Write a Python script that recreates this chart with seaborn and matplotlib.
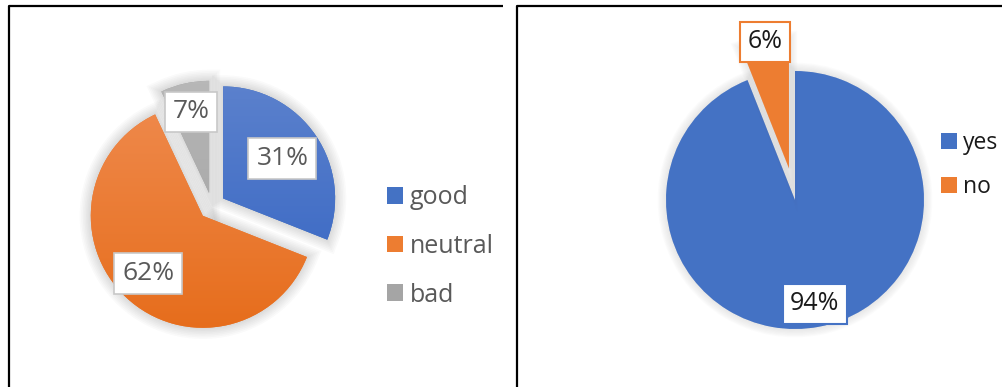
import numpy as np
import matplotlib
matplotlib.use("Agg")
import matplotlib.pyplot as plt
import matplotlib.patheffects as pe
from matplotlib.colors import LinearSegmentedColormap
import seaborn as sns

# Survey answers, left chart
rating_labels = ["good", "neutral", "bad"]
rating_values = [31, 62, 7]

# Survey answers, right chart
answer_labels = ["yes", "no"]
answer_values = [94, 6]

sns.set_theme(style="white")
plt.rcParams["font.family"] = ["Open Sans", "DejaVu Sans"]

W, H = 1003, 387
fig = plt.figure(figsize=(W / 100, H / 100), dpi=100)
ax = fig.add_axes([0, 0, 1, 1])


def reset_axes():
    ax.set_xlim(0, W)
    ax.set_ylim(0, H)
    ax.set_aspect("equal")
    ax.set_axis_off()


reset_axes()

# panel frames (top and left edges are visible, the rest run off the canvas)
for x0, x1 in [(9, 503), (517, W + 5)]:
    ax.plot([x0, x0, x1], [-5, H - 6, H - 6], color="black", lw=1.6,
            solid_capstyle="butt", zorder=1)


def halo(width, alpha=0.035, steps=7):
    effects = []
    for k in range(steps, 0, -1):
        effects.append(pe.Stroke(linewidth=width * k / steps,
                                 foreground="#606060", alpha=alpha))
    effects.append(pe.Normal())
    return effects


# ---------- left chart: exploded pie with gradient fills ----------
left_top = ["#5d82cd", "#f08d52", "#b8b8b8"]
left_bottom = ["#3162c2", "#e66c1a", "#9c9c9c"]
left_base = ["#4472c4", "#ed7d31", "#a5a5a5"]
r1 = 112
c1 = (212, H - 206)
wedges1, texts1, auto1 = ax.pie(
    rating_values, colors=left_base, startangle=90, counterclock=False,
    radius=r1, center=c1, explode=[0.12 * r1] * 3, frame=True,
    autopct="%d%%", pctdistance=0.7,
    wedgeprops=dict(linewidth=0),
    textprops=dict(fontsize=19, color="#595959"))
reset_axes()

for w, ctop, cbot in zip(wedges1, left_top, left_bottom):
    w.set_path_effects(halo(16, alpha=0.03))
    w.set_zorder(3)
    cmap = LinearSegmentedColormap.from_list("g", [cbot, ctop])
    grad = np.linspace(0, 1, 256).reshape(-1, 1)
    im = ax.imshow(grad, cmap=cmap, origin="lower", aspect="auto",
                   extent=[c1[0] - r1 - 20, c1[0] + r1 + 20,
                           c1[1] - r1 - 20, c1[1] + r1 + 20],
                   zorder=4)
    im.set_clip_path(w)
reset_axes()

label_dist1 = [0.64, 0.71, 0.74]
for w, t, d in zip(wedges1, auto1, label_dist1):
    ang = np.deg2rad((w.theta1 + w.theta2) / 2)
    cx, cy = w.center
    t.set_position((cx + d * r1 * np.cos(ang), cy + d * r1 * np.sin(ang)))
    t.set_zorder(6)
    t.set_bbox(dict(boxstyle="square,pad=0.3", facecolor="white",
                    edgecolor="#c8c8c8", linewidth=1.2))

leg1 = ax.legend(wedges1, rating_labels, loc="upper left",
                 bbox_to_anchor=(377, H - 175), bbox_transform=ax.transData,
                 frameon=False, fontsize=18, labelcolor="#595959",
                 handlelength=0.66, handleheight=0.66, handletextpad=0.25,
                 labelspacing=0.95, borderaxespad=0)
for h, c in zip(leg1.legend_handles, left_base):
    h.set_path_effects([])
    h.set_facecolor(c)
ax.add_artist(leg1)

# ---------- right chart: yes / no ----------
right_colors = ["#4472c4", "#ed7d31"]
r2 = 129
c2 = (795, H - 200)
wedges2, texts2, auto2 = ax.pie(
    answer_values, colors=right_colors, startangle=90, counterclock=False,
    radius=r2, center=c2, explode=[0, 0.25 * r2], frame=True,
    autopct="%d%%", pctdistance=0.82,
    wedgeprops=dict(linewidth=0),
    textprops=dict(fontsize=18, color="#1a1a1a"))
reset_axes()

for w in wedges2:
    w.set_path_effects(halo(12, alpha=0.02))
    w.set_zorder(3)

label_dist2 = [0.82, 1.0]
for w, t, d, c in zip(wedges2, auto2, label_dist2, right_colors):
    ang = np.deg2rad((w.theta1 + w.theta2) / 2)
    cx, cy = w.center
    t.set_position((cx + d * r2 * np.cos(ang), cy + d * r2 * np.sin(ang)))
    t.set_zorder(6)
    t.set_bbox(dict(boxstyle="square,pad=0.3", facecolor="white",
                    edgecolor=c, linewidth=1.5))

leg2 = ax.legend(wedges2, answer_labels, loc="upper left",
                 bbox_to_anchor=(932, H - 122), bbox_transform=ax.transData,
                 frameon=False, fontsize=16.5, labelcolor="#1a1a1a",
                 handlelength=0.7, handleheight=0.7, handletextpad=0.25,
                 labelspacing=0.85, borderaxespad=0)
for h in leg2.legend_handles:
    h.set_path_effects([])

fig.savefig("out.png", dpi=100, facecolor="white")
